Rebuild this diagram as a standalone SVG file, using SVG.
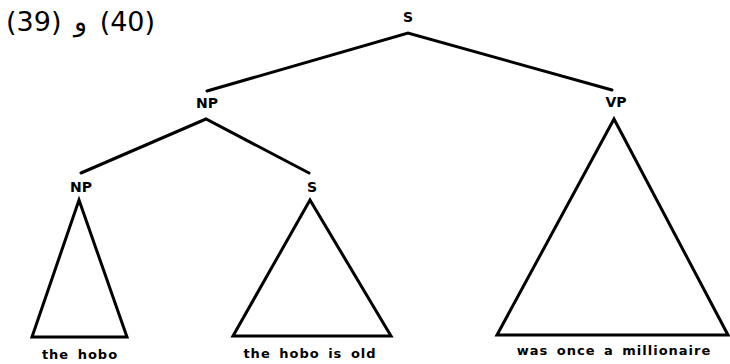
<svg xmlns="http://www.w3.org/2000/svg" width="730" height="364" viewBox="0 0 730 364">
  <style>
    .lbl { font-family: "DejaVu Sans", "Liberation Sans", sans-serif; font-size: 14px; font-weight: bold; text-anchor: middle; fill: #000; }
    .leaf { font-family: "DejaVu Sans", "Liberation Sans", sans-serif; font-size: 13px; font-weight: bold; letter-spacing: 1px; word-spacing: 3px; text-anchor: middle; fill: #000; }
    .title { font-family: "DejaVu Sans", "Noto Sans", sans-serif; font-size: 27px; word-spacing: 4px; fill: #000; direction: ltr; unicode-bidi: bidi-override; }
    .edge { stroke: #000; stroke-width: 3; fill: none; stroke-linecap: round; }
    .tri { stroke: #000; stroke-width: 3; fill: none; stroke-linejoin: miter; }
  </style>
  <rect width="730" height="364" fill="#fff"/>
  <text class="title" x="6" y="31" direction="ltr" unicode-bidi="bidi-override">(39) و (40)</text>

  <g id="connectors">
    <path class="edge" d="M207,91 L408,33 L612,90"/>
    <path class="edge" d="M81,173 L206,119 L309,173"/>
  </g>

  <g id="node-s-root">
    <text class="lbl" x="408" y="22">S</text>
  </g>
  <g id="node-np">
    <text class="lbl" x="207" y="108">NP</text>
  </g>
  <g id="node-vp">
    <text class="lbl" x="616" y="107">VP</text>
    <polygon class="tri" points="614,119 728,335 497,335"/>
    <text class="leaf" x="614" y="355">was once a millionaire</text>
  </g>
  <g id="node-np-inner">
    <text class="lbl" x="81" y="192">NP</text>
    <polygon class="tri" points="79,200 127,337 32,337"/>
    <text class="leaf" x="80" y="359">the hobo</text>
  </g>
  <g id="node-s-inner">
    <text class="lbl" x="312" y="192">S</text>
    <polygon class="tri" points="310,200 391,336 233,336"/>
    <text class="leaf" x="310" y="358">the hobo is old</text>
  </g>
</svg>
